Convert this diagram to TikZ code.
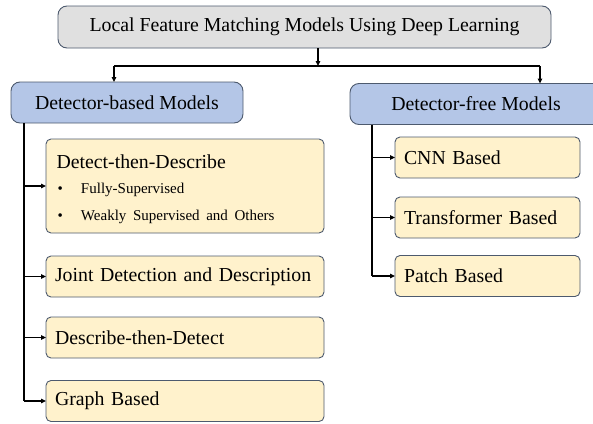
\documentclass[tikz,border=0pt]{standalone}
\usepackage{fontspec}
\setmainfont{Liberation Serif}
\usetikzlibrary{arrows.meta,calc}

\definecolor{rootfill}{HTML}{E0E0E0}
\definecolor{catfill}{HTML}{B4C6E7}
\definecolor{leaffill}{HTML}{FFF2CC}
\definecolor{edgecol}{HTML}{4D5A6E}

\tikzset{
  base/.style={draw=edgecol, line width=0.9pt, inner sep=0pt, outer sep=0pt,
    font=\fontsize{19.8}{23}\selectfont},
  rootbox/.style={base, fill=rootfill, rounded corners=9pt,
    minimum width=493pt, minimum height=42pt},
  catbox/.style={base, fill=catfill, rounded corners=9pt, minimum height=41pt},
  leafbox/.style={base, fill=leaffill, rounded corners=5pt, minimum height=41pt,
    align=left, inner xsep=9pt},
  link/.style={line width=1.3pt, -{Triangle[length=5pt,width=4.5pt]}},
  plain/.style={line width=1.3pt},
}

\newcommand{\bulletitem}[1]{{\fontsize{15}{18}\selectfont\makebox[26pt][l]{\hspace{2.5pt}\textbullet}#1}}

\begin{document}
\begin{tikzpicture}[x=1pt,y=-1pt]
  \useasboundingbox (0,0) rectangle (593,423);
  \clip (0,0) rectangle (593,423);

  % root
  \node[rootbox] (root) at (304.5,27) {Local Feature Matching Models Using Deep Learning};

  % categories
  \node[catbox, minimum width=232pt] (db) at (127,102.5) {Detector-based Models};
  \node[catbox, minimum width=252pt] (df) at (476,104) {Detector-free Models};

  % detector-based leaves
  \node[leafbox, text width=260pt, minimum height=94pt] (dtd) at (185,186)
    {\rule{0pt}{20pt}\hspace{1.5pt}Detect-then-Describe\\[1.5pt]
     \bulletitem{Fully-Supervised}\\[4pt]
     \bulletitem{Weakly Supervised and Others}};
  \node[leafbox, text width=260pt] (jdd) at (185,276.5) {Joint Detection and Description};
  \node[leafbox, text width=260pt] (dtt) at (185,337.5) {Describe-then-Detect};
  \node[leafbox, text width=260pt] (gb)  at (185,401) {Graph Based};

  % detector-free leaves
  \node[leafbox, text width=167pt] (cnn) at (487.5,157.5) {CNN Based};
  \node[leafbox, text width=167pt] (tr)  at (487.5,217.5) {Transformer Based};
  \node[leafbox, text width=167pt] (pb)  at (487.5,276) {Patch Based};

  % junction points
  \coordinate (split) at (318,66);
  \coordinate (splitL) at (114,66);
  \coordinate (splitR) at (540,66);
  \coordinate (spineL) at (24,0);
  \coordinate (spineR) at (372,0);

  % root to categories
  \draw[link] (root.south -| split) -- (split);
  \draw[plain] (splitL) -- (splitR);
  \draw[link] (splitL) -- (splitL |- db.north);
  \draw[link] (splitR) -- (splitR |- df.north);

  % detector-based branches
  \draw[plain] (db.south -| spineL) -- (spineL |- gb.west);
  \foreach \n in {dtd,jdd,dtt,gb}
    \draw[link] (spineL |- \n.west) -- (\n.west);

  % detector-free branches
  \draw[plain] (df.south -| spineR) -- (spineR |- pb.west);
  \foreach \n in {cnn,tr,pb}
    \draw[link] (spineR |- \n.west) -- (\n.west);
\end{tikzpicture}
\end{document}
